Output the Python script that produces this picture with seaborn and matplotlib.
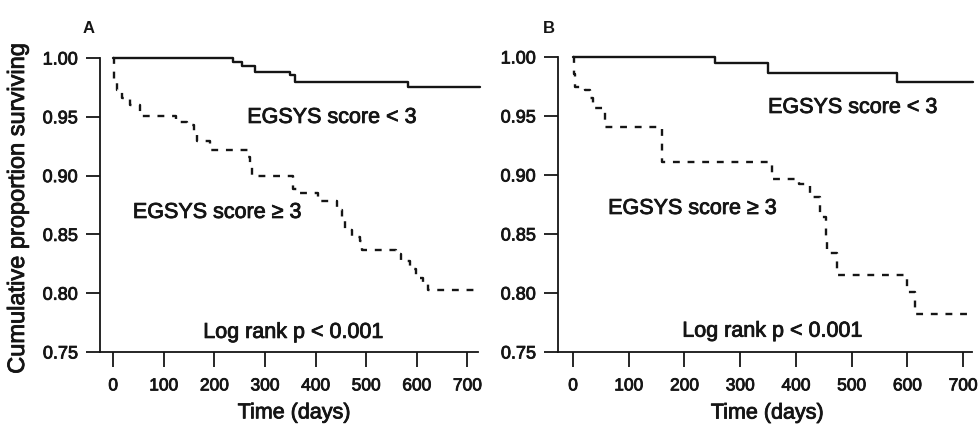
import matplotlib
matplotlib.use("Agg")
import matplotlib.pyplot as plt
import matplotlib.patheffects as pe
import seaborn as sns
import pandas as pd

# ---------------- data (Kaplan-Meier step points: time of step, survival after) ----
a_low_days = [0, 237, 255, 281, 350, 360, 583, 725]
a_low_surv = [1.000, 0.9966, 0.9932, 0.988, 0.9855, 0.980, 0.9755, 0.9755]

a_high_days = [0, 1, 8, 18, 34, 53, 124, 146, 160, 166, 192, 267, 271, 275, 356, 364,
               405, 443, 453, 458, 472, 488, 492, 559, 569, 587, 599, 613, 623, 725]
a_high_surv = [1.000, 0.979, 0.973, 0.966, 0.960, 0.951, 0.946, 0.943, 0.937, 0.929,
               0.922, 0.916, 0.907, 0.900, 0.889, 0.885, 0.878, 0.871, 0.862, 0.854,
               0.848, 0.844, 0.837, 0.833, 0.827, 0.821, 0.813, 0.809, 0.803, 0.803]

b_low_days = [0, 255, 350, 582, 718]
b_low_surv = [1.000, 0.995, 0.9865, 0.979, 0.979]

b_high_days = [0, 1, 4, 22, 30, 36, 57, 160, 357, 406, 425, 443, 454, 456, 474,
               600, 614, 718]
b_high_surv = [1.000, 0.986, 0.975, 0.972, 0.965, 0.957, 0.941, 0.911, 0.897, 0.892,
               0.881, 0.864, 0.845, 0.834, 0.815, 0.801, 0.782, 0.782]

x_ticks = [0, 100, 200, 300, 400, 500, 600, 700]
y_ticks = [0.75, 0.80, 0.85, 0.90, 0.95, 1.00]
y_tick_labels = ["0.75", "0.80", "0.85", "0.90", "0.95", "1.00"]

panel_labels = ["A", "B"]
low_label = "EGSYS score < 3"
high_label = "EGSYS score \u2265 3"
logrank_label = "Log rank p < 0.001"
x_label = "Time (days)"
y_label = "Cumulative proportion surviving"

# ---------------- style ----------------
sns.set_style("ticks")
plt.rcParams["font.family"] = ["Liberation Sans", "DejaVu Sans"]
ink = "#151515"
heavy = [pe.withStroke(linewidth=0.6, foreground=ink)]

W, H = 979, 426
fig = plt.figure(figsize=(W / 100, H / 100), dpi=100)

def px_axes(left, right, top, bottom):
    return fig.add_axes([left / W, 1 - bottom / H, (right - left) / W, (bottom - top) / H])

axA = px_axes(100, 478, 58, 352)
axB = px_axes(558, 972, 57, 352)

dash = (0, (2.9, 3.3))

def draw(ax, ld, ls_, hd, hs, xlim):
    dlow = pd.DataFrame({"t": ld, "s": ls_})
    dhigh = pd.DataFrame({"t": hd, "s": hs})
    sns.lineplot(data=dlow, x="t", y="s", ax=ax, estimator=None, sort=False,
                 drawstyle="steps-post", color=ink, linewidth=1.7, clip_on=False)
    sns.lineplot(data=dhigh, x="t", y="s", ax=ax, estimator=None, sort=False,
                 drawstyle="steps-post", color=ink, linewidth=1.7, linestyle=dash,
                 clip_on=False)
    ax.set_xlim(*xlim)
    ax.set_ylim(0.75, 1.0)
    ax.set_xticks(x_ticks)
    ax.set_xticklabels([str(v) for v in x_ticks])
    ax.set_yticks(y_ticks)
    ax.set_yticklabels(y_tick_labels)
    for s in ["top", "right"]:
        ax.spines[s].set_visible(False)
    for s in ["left", "bottom"]:
        ax.spines[s].set_linewidth(1.3)
        ax.spines[s].set_color(ink)
    ax.tick_params(axis="x", direction="out", length=11, width=1.3, pad=8,
                   labelsize=12.5, colors=ink)
    ax.tick_params(axis="y", direction="out", length=10, width=1.3, pad=6,
                   labelsize=13, colors=ink)
    for lab in ax.get_xticklabels() + ax.get_yticklabels():
        lab.set_path_effects(heavy)
    ax.set_xlabel(x_label, fontsize=15.5, color=ink, path_effects=heavy)
    ax.xaxis.label.set_verticalalignment("center")
    ax.set_ylabel("")

draw(axA, a_low_days, a_low_surv, a_high_days, a_high_surv, (-26, 721))
draw(axB, b_low_days, b_low_surv, b_high_days, b_high_surv, (-27, 716))

axA.xaxis.set_label_coords(0.513, -0.207)
axB.xaxis.set_label_coords(0.505, -0.207)

axA.set_ylabel(y_label, fontsize=17, color=ink, path_effects=heavy)
axA.yaxis.label.set_verticalalignment("center")
axA.yaxis.set_label_coords((18 - 100) / 378, 0.49)

tk = dict(fontsize=15.5, color=ink, ha="left", va="baseline", path_effects=heavy)
axA.text(265, 0.9448, low_label, **tk)
axA.text(39, 0.864, high_label, **tk)
axA.text(178, 0.762, logrank_label, **tk)

axB.text(350, 0.9526, low_label, **tk)
axB.text(63, 0.867, high_label, **tk)
axB.text(196, 0.763, logrank_label, **tk)

fig.text(83 / W, 1 - 33 / H, panel_labels[0], fontsize=12, fontweight="bold",
         color=ink, ha="left", va="baseline")
fig.text(543 / W, 1 - 33 / H, panel_labels[1], fontsize=12, fontweight="bold",
         color=ink, ha="left", va="baseline")

fig.savefig("out.png", dpi=100)
